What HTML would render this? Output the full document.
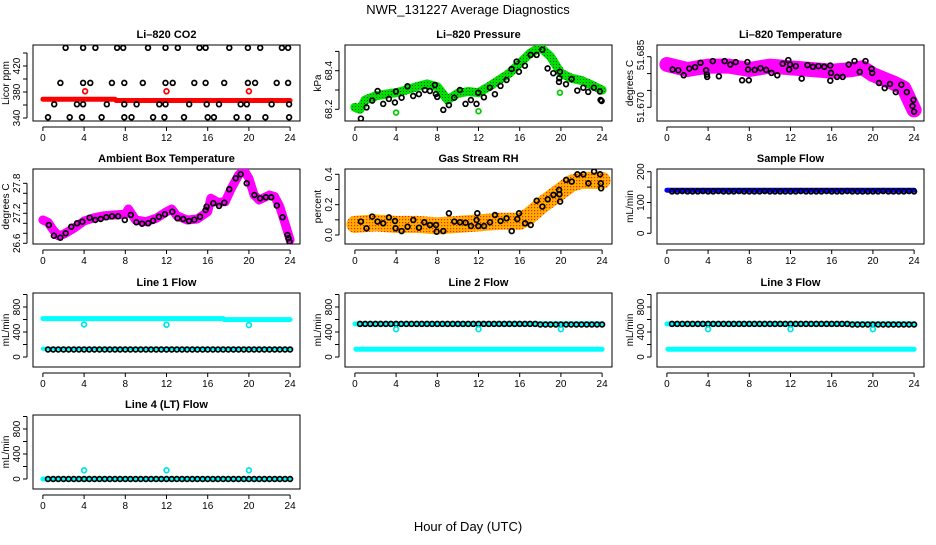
<!DOCTYPE html>
<html><head><meta charset="utf-8">
<style>
html,body{margin:0;padding:0;background:#fff;}
svg text{font-family:"Liberation Sans",sans-serif;}
</style></head>
<body>
<svg id="chart" width="936" height="540" viewBox="0 0 936 540" xmlns="http://www.w3.org/2000/svg">
<defs>
<pattern id="rhpat" width="3" height="3" patternUnits="userSpaceOnUse"><rect width="3" height="3" fill="#ffb000"/><rect x="0" y="0" width="1.2" height="1.2" fill="#ff2000"/></pattern>
<pattern id="grpat" width="3" height="3" patternUnits="userSpaceOnUse"><rect width="3" height="3" fill="#00e000"/><rect x="1" y="1" width="1" height="1" fill="#0a5a0a"/></pattern>
</defs>
<text x="468" y="14" text-anchor="middle" font-size="13">NWR_131227  Average Diagnostics</text>
<text x="468" y="531" text-anchor="middle" font-size="13">Hour of Day (UTC)</text>
<g id="panels"></g>
</svg>
<script>
// ---------- data ----------
const xTicks=[0,4,8,12,16,20,24];
// CO2
const co2Hours=[2.2,3.9,5.1,7.2,7.8,10.2,11.9,13.1,15.2,15.8,18.1,19.9,21.1,23.2,23.8,1.7,3.9,4.6,6.7,7.9,9.7,11.9,12.6,14.7,15.8,17.6,19.9,20.6,22.7,23.8,1.1,3.3,3.9,6.2,7.9,9.1,11.3,11.9,14.2,15.9,17.1,19.2,19.8,22.2,23.9,0.5,2.6,3.8,5.7,7.9,8.6,10.7,11.8,13.7,16,16.6,18.8,19.9,21.6,23.9];
const co2Values=[448,448,448,448,448,448,448,448,448,448,448,448,448,448,448,394,394,394,394,394,394,394,394,394,394,394,394,394,394,394,361,361,361,361,361,361,361,361,361,361,361,361,361,361,361,341,341,341,341,341,341,341,341,341,341,341,341,341,341,341];
const co2RedHours=[4.1,12,20];
const co2RedValues=[381,381,381];
const co2LineHours=[0,7,7.1,24];
const co2LineValues=[369,369,367,367];
// Pressure
const presBandHours=[0,0.5,1,2,3,4,5,6,7,8,9,10,11,12,13,14,15,16,17,18,19,20,21,22,23,24];
const presBandValues=[68.21,68.2,68.248,68.269,68.279,68.286,68.3,68.317,68.331,68.317,68.248,68.283,68.292,68.286,68.317,68.352,68.387,68.438,68.49,68.521,68.473,68.387,68.361,68.349,68.326,68.3];
const presHours=[0.58,1.13,1.68,2.2,2.75,3.3,3.88,3.98,4.53,5.11,5.66,6.21,6.8,7.28,7.77,7.86,7.99,8.58,9.13,9.64,10.19,10.74,11.26,11.81,11.97,12.52,13.11,13.59,14.14,14.72,15.21,15.7,15.92,16.5,17.06,17.64,18.19,18.71,19.26,19.81,19.84,19.9,20.49,21.04,21.59,22.17,22.65,23.2,23.79,23.85,23.95];
const presValues=[68.152,68.21,68.245,68.295,68.228,68.254,68.235,68.292,68.26,68.319,68.269,68.279,68.3,68.295,68.326,68.279,68.264,68.197,68.222,68.26,68.3,68.228,68.248,68.228,68.286,68.262,68.312,68.278,68.321,68.352,68.409,68.447,68.395,68.426,68.482,68.482,68.509,68.412,68.387,68.342,68.361,68.395,68.33,68.357,68.297,68.312,68.29,68.312,68.292,68.248,68.243];
const presOutHours=[4.0,12.0,19.9];
const presOutValues=[68.183,68.19,68.286];
// Li-820 temperature
const tempBandHours=[0,2,4,6,8,10,12,14,16,18,19,20,22,23,24];
const tempBandValues=[51.6827,51.6812,51.6822,51.6822,51.6812,51.6822,51.6817,51.6812,51.6807,51.6812,51.6817,51.6797,51.6772,51.6757,51.6692];
const tempHours=[0.55,1.11,1.63,2.18,2.74,3.26,3.81,3.88,3.91,4.46,5.05,5.6,6.16,6.68,7.3,7.82,7.88,7.95,8.53,9.09,9.64,10.16,10.72,11.24,11.79,11.86,11.95,12.51,13.09,13.65,14.17,14.72,15.28,15.86,15.93,15.86,16.51,17.07,17.65,18.21,18.73,19.28,19.87,19.93,20.59,21.14,21.66,22.22,22.77,23.29,23.84,23.94,24];
const tempValues=[51.6812,51.681,51.6795,51.6815,51.6819,51.6832,51.681,51.6797,51.679,51.6837,51.6792,51.6837,51.6827,51.6834,51.678,51.6834,51.6812,51.678,51.6811,51.6816,51.6811,51.6802,51.6795,51.6829,51.684,51.6812,51.6827,51.6822,51.6785,51.6825,51.682,51.6822,51.682,51.6824,51.6802,51.6779,51.679,51.679,51.6827,51.6837,51.6805,51.6837,51.6814,51.6802,51.6772,51.6757,51.6769,51.6745,51.6767,51.6745,51.6704,51.6722,51.6687];
// Ambient box temperature
const ambBandHours=[0,0.5,1,1.5,2,3,4,5,6,7,8,8.3,9,10,11,12,12.5,13,14,15,16,16.3,17,17.7,18.3,19,19.5,20,20.5,21,22,22.5,23,23.5,24];
const ambBandValues=[27.067,27.02,26.867,26.753,26.78,26.9,27.047,27.113,27.153,27.167,27.18,27.287,27.067,27.033,27.1,27.233,27.287,27.153,27.067,27.087,27.233,27.5,27.42,27.433,27.7,27.967,28.067,27.9,27.567,27.467,27.567,27.533,27.333,27.0,26.667];
const ambHours=[0.58,1.07,1.69,2.21,2.76,3.31,3.83,4.54,5.09,5.61,6.16,6.71,7.3,7.95,8.53,9.08,9.63,10.22,10.7,11.26,11.84,12.56,13.07,13.62,14.18,14.7,15.25,15.8,15.89,16.54,17.1,17.61,18.1,18.72,19.2,19.79,20.53,21.09,21.64,22.16,22.71,23.26,23.75,23.84,23.94];
const ambValues=[26.967,26.753,26.713,26.8,26.933,27.0,27.033,27.113,27.067,27.087,27.12,27.14,27.14,27.067,27.167,27.02,26.993,27.0,27.053,27.133,27.18,27.233,27.1,27.087,27.047,27.073,27.133,27.267,27.333,27.4,27.347,27.413,27.68,27.9,27.98,27.8,27.567,27.5,27.52,27.52,27.353,27.12,26.767,26.7,26.633];
// Gas stream RH
const rhBandHours=[0,2,4,6,8,10,12,14,16,17,18,19,20,21,22,23,24];
const rhBandValues=[0.07,0.08,0.07,0.07,0.06,0.07,0.08,0.09,0.09,0.13,0.19,0.24,0.29,0.34,0.36,0.36,0.36];
const rhHours=[0.58,1.13,1.68,2.2,2.75,3.3,3.89,3.95,4.53,5.12,5.67,6.22,6.74,7.29,7.87,7.93,8.58,9.13,9.65,10.2,10.75,11.27,11.82,11.88,11.98,12.53,13.12,13.6,14.15,14.73,15.22,15.77,15.93,16.52,17.07,17.65,18.2,18.72,19.27,19.82,19.85,19.92,20.5,21.05,21.6,22.18,22.67,23.22,23.8,23.87,23.9];
const rhValues=[0.088,0.044,0.121,0.088,0.077,0.116,0.092,0.044,0.026,0.055,0.099,0.048,0.084,0.066,0.066,0.022,0.026,0.143,0.088,0.084,0.081,0.059,0.099,0.143,0.059,0.059,0.084,0.132,0.092,0.11,0.026,0.105,0.143,0.077,0.066,0.226,0.187,0.235,0.264,0.297,0.268,0.22,0.363,0.352,0.4,0.4,0.341,0.418,0.4,0.341,0.308];
// flows
const flowHours=[0.5,1,1.5,2,2.5,3,3.5,4,4.5,5,5.5,6,6.5,7,7.5,8,8.5,9,9.5,10,10.5,11,11.5,12,12.5,13,13.5,14,14.5,15,15.5,16,16.5,17,17.5,18,18.5,19,19.5,20,20.5,21,21.5,22,22.5,23,23.5,24];
const sampleFlowValues=[136,136,137,136,136,136,137,136,136,137,136,136,136,137,136,136,136,136,137,136,136,136,136,136,136,137,136,136,136,136,137,136,136,136,137,136,136,136,136,136,136,137,136,136,136,136,137,136];
const sampleBandHours=[0,24];
const sampleBandValues=[140,140];
const line1FlowValues=[120,120,120,120,120,120,120,120,120,120,120,120,120,120,120,120,120,120,120,120,120,120,120,120,120,120,120,120,120,120,120,120,120,120,120,120,120,120,120,120,120,120,120,120,120,120,120,120];
const line1HighHours=[0,17.5,17.6,24];
const line1HighValues=[615,615,598,598];
const line1LowHours=[0,24];
const line1LowValues=[132,132];
const line23FlowValues=[530,530,530,530,530,530,530,530,530,530,530,530,530,530,530,530,530,530,530,530,530,530,530,530,530,530,530,530,530,530,530,530,530,530,530,520,520,520,520,520,520,520,520,520,520,520,520,520];
const line23HighHours=[0,24];
const line23HighValues=[530,530];
const line23LowHours=[0.1,24];
const line23LowValues=[125,125];
const line4FlowValues=[0,0,0,0,0,0,0,0,0,0,0,0,0,0,0,0,0,0,0,0,0,0,0,0,0,0,0,0,0,0,0,0,0,0,0,0,0,0,0,0,0,0,0,0,0,0,0,0];
const line4BandHours=[0,24];
const line4BandValues=[0,0];
const outlierHours=[4,12,20];
const line1OutValues=[520,515,510];
const line23OutValues=[445,445,445];
const line4OutValues=[140,140,140];

// ---------- drawing ----------
const NS='http://www.w3.org/2000/svg';
const root=document.getElementById('panels');
const cols=[33,345,657], W=267;
const rows=[[45,121],[169,244],[293,367],[415,489]];
function mk(tag,attrs,parent){const e=document.createElementNS(NS,tag);for(const k in attrs)e.setAttribute(k,attrs[k]);(parent||root).appendChild(e);return e;}

function panel(o){
  const x0=cols[o.col], x1=x0+W, y0=rows[o.row][0], y1=rows[o.row][1];
  const g=mk('g',{});
  
  
  const xs=h=>x0+W*(h+0.96)/25.92;
  const ys=v=>o.yRef[1]+(v-o.yRef[0])*(o.yRef2[1]-o.yRef[1])/(o.yRef2[0]-o.yRef[0]);
  const cx=(x0+x1)/2;
  const t=mk('text',{x:cx,y:y0-7,'text-anchor':'middle','font-size':11,'font-weight':'bold'},g);
  t.textContent=o.title;
  
  
  const box=mk('rect',{x:x0,y:y0,width:W,height:y1-y0,fill:'none',stroke:'#000','stroke-width':1},g);
  
  
  const xa=mk('g',{},g);
  
  
  mk('line',{x1:xs(0),x2:xs(24),y1:y1+6,y2:y1+6,stroke:'#000'},xa);
  xTicks.forEach(h=>{
    mk('line',{x1:xs(h),x2:xs(h),y1:y1+6,y2:y1+10,stroke:'#000'},xa);
    const l=mk('text',{x:xs(h),y:y1+20,'text-anchor':'middle','font-size':10},xa);
    l.textContent=h;
    
    
  });
  const ya=mk('g',{},g);
  
  
  const tv=o.yTicks;
  mk('line',{x1:x0-6,x2:x0-6,y1:ys(tv[0]),y2:ys(tv[tv.length-1]),stroke:'#000'},ya);
  tv.forEach(v=>mk('line',{x1:x0-6,x2:x0-10,y1:ys(v),y2:ys(v),stroke:'#000'},ya));
  o.yLabels.forEach(([v,s])=>{
    const yy=ys(v), xx=x0-13;
    const l=mk('text',{x:xx,y:yy,'text-anchor':'middle','font-size':10,transform:`rotate(-90 ${xx} ${yy})`},ya);
    l.textContent=s;
    
    
  });
  const yt=mk('text',{x:x0-24,y:(y0+y1)/2,'text-anchor':'middle','font-size':10,transform:`rotate(-90 ${x0-24} ${(y0+y1)/2})`},ya);
  yt.textContent=o.ylab;
  
  
  const clip='c'+o.col+o.row;
  const cp=mk('clipPath',{id:clip},g); mk('rect',{x:x0,y:y0,width:W,height:y1-y0},cp);
  const plot=mk('g',{'clip-path':`url(#${clip})`},g);
  (o.bands||[]).forEach(b=>{
    const d=b.h.map((h,i)=>(i?'L':'M')+xs(h).toFixed(1)+','+ys(b.v[i]).toFixed(1)).join('');
    const p=mk('path',{d,fill:'none',stroke:b.color,'stroke-width':b.w,'stroke-linejoin':'round','stroke-linecap':'round'},plot);
    
    
  });
  (o.points||[]).forEach(s=>{
    s.h.forEach((h,i)=>{
      const c=mk('circle',{cx:xs(h).toFixed(1),cy:ys(s.v[i]).toFixed(1),r:2.4,fill:'none',stroke:s.color,'stroke-width':1.7},plot);
      
      
    });
  });
}
const flowTicks=[0,200,400,600,800,1000];
const flowLabels=[[0,'0'],[400,'400'],[800,'800']];
panel({name:'co2-panel',col:0,row:0,title:'Li\u2013820 CO2',ylab:'Licor ppm',yRef:[340,118],yRef2:[420,66],yTicks:[340,360,380,400,420,440],yLabels:[[340,'340'],[380,'380'],[420,'420']],
  bands:[{h:co2LineHours,v:co2LineValues,color:'#ff0000',w:5}],
  points:[{h:co2Hours,v:co2Values,color:'#000'},{h:co2RedHours,v:co2RedValues,color:'#ff0000'}]});
panel({name:'pressure-panel',col:1,row:0,title:'Li\u2013820 Pressure',ylab:'kPa',yRef:[68.2,109.3],yRef2:[68.4,70.7],yTicks:[68.2,68.3,68.4,68.5],yLabels:[[68.2,'68.2'],[68.4,'68.4']],
  bands:[{h:presBandHours,v:presBandValues,color:'url(#grpat)',w:9}],
  points:[{h:presHours,v:presValues,color:'#000'},{h:presOutHours,v:presOutValues,color:'#00cc00'}]});
panel({name:'li820-temperature-panel',col:2,row:0,title:'Li\u2013820 Temperature',ylab:'degrees C',yRef:[51.670,107.3],yRef2:[51.685,56.7],yTicks:[51.670,51.675,51.680,51.685],yLabels:[[51.670,'51.670'],[51.6855,'51.685']],
  bands:[{h:tempBandHours,v:tempBandValues,color:'#ff00ff',w:15}],
  points:[{h:tempHours,v:tempValues,color:'#000'}]});
panel({name:'ambient-temperature-panel',col:0,row:1,title:'Ambient Box Temperature',ylab:'degrees C',yRef:[26.6,243.3],yRef2:[27.8,183.3],yTicks:[26.6,26.8,27.0,27.2,27.4,27.6,27.8],yLabels:[[26.6,'26.6'],[27.2,'27.2'],[27.8,'27.8']],
  bands:[{h:ambBandHours,v:ambBandValues,color:'#ff00ff',w:9}],
  points:[{h:ambHours,v:ambValues,color:'#000'}]});
panel({name:'rh-panel',col:1,row:1,title:'Gas Stream RH',ylab:'percent',yRef:[0,235],yRef2:[0.4,174.3],yTicks:[0,0.1,0.2,0.3,0.4],yLabels:[[0,'0.0'],[0.2,'0.2'],[0.4,'0.4']],
  bands:[{h:rhBandHours,v:rhBandValues,color:'url(#rhpat)',w:17}],
  points:[{h:rhHours,v:rhValues,color:'#000'}]});
panel({name:'sample-flow-panel',col:2,row:1,title:'Sample Flow',ylab:'mL/min',yRef:[0,233.3],yRef2:[200,171.7],yTicks:[0,50,100,150,200],yLabels:[[0,'0'],[100,'100'],[200,'200']],
  bands:[{h:sampleBandHours,v:sampleBandValues,color:'#0000ff',w:5}],
  points:[{h:flowHours,v:sampleFlowValues,color:'#000'}]});
panel({name:'line1-flow-panel',col:0,row:2,title:'Line 1 Flow',ylab:'mL/min',yRef:[0,357],yRef2:[800,307],yTicks:flowTicks,yLabels:flowLabels,
  bands:[{h:line1HighHours,v:line1HighValues,color:'#00ffff',w:5},{h:line1LowHours,v:line1LowValues,color:'#00ffff',w:4}],
  points:[{h:flowHours,v:line1FlowValues,color:'#000'},{h:outlierHours,v:line1OutValues,color:'#00e5e5'}]});
panel({name:'line2-flow-panel',col:1,row:2,title:'Line 2 Flow',ylab:'mL/min',yRef:[0,357],yRef2:[800,307],yTicks:flowTicks,yLabels:flowLabels,
  bands:[{h:line23HighHours,v:line23HighValues,color:'#00ffff',w:5},{h:line23LowHours,v:line23LowValues,color:'#00ffff',w:5}],
  points:[{h:flowHours,v:line23FlowValues,color:'#000'},{h:outlierHours,v:line23OutValues,color:'#00e5e5'}]});
panel({name:'line3-flow-panel',col:2,row:2,title:'Line 3 Flow',ylab:'mL/min',yRef:[0,357],yRef2:[800,307],yTicks:flowTicks,yLabels:flowLabels,
  bands:[{h:line23HighHours,v:line23HighValues,color:'#00ffff',w:5},{h:line23LowHours,v:line23LowValues,color:'#00ffff',w:5}],
  points:[{h:flowHours,v:line23FlowValues,color:'#000'},{h:outlierHours,v:line23OutValues,color:'#00e5e5'}]});
panel({name:'line4-flow-panel',col:0,row:3,title:'Line 4 (LT) Flow',ylab:'mL/min',yRef:[0,479],yRef2:[800,429],yTicks:flowTicks,yLabels:flowLabels,
  bands:[{h:line4BandHours,v:line4BandValues,color:'#00ffff',w:5}],
  points:[{h:flowHours,v:line4FlowValues,color:'#000'},{h:outlierHours,v:line4OutValues,color:'#00e5e5'}]});
</script>
</body></html>
